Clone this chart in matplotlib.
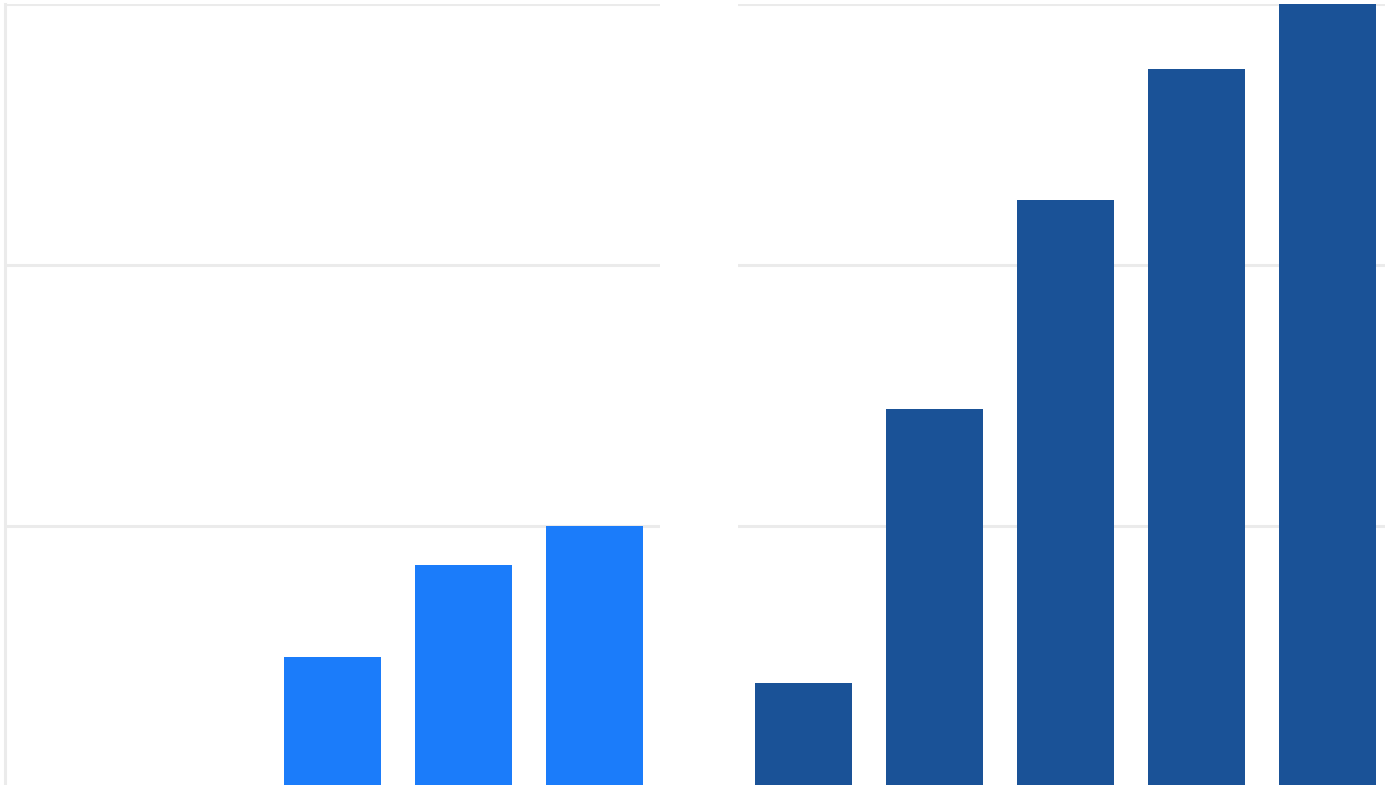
#!/usr/bin/env python3
import matplotlib
matplotlib.use("Agg")
import matplotlib.pyplot as plt

# values (grid step = 1 unit)
categories = ["A", "B", "C", "D", "E"]
left_values = [0, 0, 0.50, 0.85, 1.00]
right_values = [0.40, 1.45, 2.25, 2.75, 3.00]
grid_ticks = [0, 1, 2, 3]

W, H = 1385, 785
fig = plt.figure(figsize=(W / 100, H / 100), dpi=100)
fig.patch.set_facecolor("white")

grid_color = "#ebebeb"
lw = 2.2

# axes in pixel units -> figure fractions
ax_l = fig.add_axes([5 / W, -2 / H, 655 / W, 783 / H])
ax_r = fig.add_axes([738 / W, -2 / H, 655 / W, 783 / H])

for ax, vals, color in [(ax_l, left_values, "#1b7cfa"), (ax_r, right_values, "#1a5297")]:
    x = range(len(categories))
    ax.bar(x, vals, width=0.74, color=color, zorder=3)
    ax.set_xlim(-0.5, len(categories) - 0.5)
    ax.set_ylim(0, 3)
    ax.set_yticks(grid_ticks)
    ax.set_xticks([])
    ax.yaxis.grid(True, color=grid_color, linewidth=lw, zorder=0)
    ax.tick_params(left=False, labelleft=False, bottom=False, labelbottom=False)
    for s in ["top", "right", "bottom", "left"]:
        ax.spines[s].set_visible(False)
    ax.set_axisbelow(True)

ax_l.spines["left"].set_visible(True)
ax_l.spines["left"].set_color(grid_color)
ax_l.spines["left"].set_linewidth(lw)

fig.savefig("out.png", dpi=100)
